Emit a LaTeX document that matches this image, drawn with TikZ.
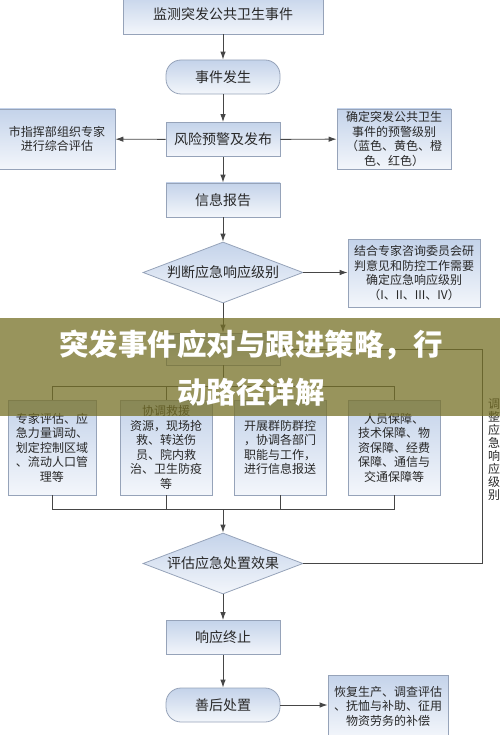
\documentclass[tikz,border=0pt]{standalone}
\usepackage{fontspec}
\setmainfont{Noto Sans CJK SC}
\usepackage{tikz}
\usetikzlibrary{shapes.geometric, arrows.meta}
\definecolor{boxline}{RGB}{150,163,185}
\definecolor{boxtop}{RGB}{196,211,234}
\definecolor{boxbot}{RGB}{243,246,251}
\definecolor{linegray}{RGB}{70,70,70}
\definecolor{txt}{RGB}{40,40,40}
\definecolor{band}{RGB}{118,112,38}

\begin{document}
\begin{tikzpicture}[x=1pt,y=-1pt,>={Latex[length=8pt,width=5.5pt]},
	box/.style={draw=boxline, line width=0.8pt, top color=boxtop, bottom color=boxbot, text=txt, align=center, inner sep=2pt},
	big/.style={box, minimum width=114pt, minimum height=34pt, font=\fontsize{14}{16}\selectfont},
	pill/.style={big, rounded corners=15pt},
	note/.style={box, font=\fontsize{12}{14.5}\selectfont},
	judge/.style={box, diamond, minimum width=160pt, minimum height=61pt, inner sep=0pt, aspect=2.6, font=\fontsize{14}{16}\selectfont},
	wire/.style={draw=linegray, line width=0.9pt}]
			\useasboundingbox (0,0) rectangle (500,735);
			
			\node[big, minimum width=200pt, minimum height=40pt] (watch) at (223,14) {监测突发公共卫生事件};
			\node[pill] (occur) at (223,77) {事件发生};
			\node[big] (alert) at (223,139.5) {风险预警及发布};
			\node[note, minimum width=116pt, minimum height=60pt] (expert) at (57,139) {市指挥部组织专家\\进行综合评估};
			\node[note, minimum width=114pt, minimum height=60pt] (grade) at (394,139) {确定突发公共卫生\\事件的预警级别\\（蓝色、黄色、橙\\色、红色）};
			\node[big] (report) at (223,200) {信息报告};
			\node[judge] (judge) at (223,272.5) {判断应急响应级别};
			\node[note, minimum width=132pt, minimum height=68pt] (consult) at (414,273) {结合专家咨询委员会研\\判意见和防控工作需要\\确定应急响应级别\\（I、II、III、IV）};
			\node[big, minimum height=32pt] (launch) at (223,349) {};
			
			\node[note, minimum width=88pt, minimum height=95pt] (task1) at (52,447.5) {专家评估、应\\急力量调动、\\划定控制区域\\、流动人口管\\理等};
			\node[note, minimum width=92pt, minimum height=95pt] (task2) at (166,447.5) {协调救援\\资源，现场抢\\救、转送伤\\员、院内救\\治、卫生防疫\\等};
			\node[note, minimum width=92pt, minimum height=95pt] (task3) at (280,447.5) {开展群防群控\\，协调各部门\\职能与工作，\\进行信息报送};
			\node[note, minimum width=92pt, minimum height=95pt] (task4) at (394,447.5) {人员保障、\\技术保障、物\\资保障、经费\\保障、通信与\\交通保障等};
			
			\node[judge] (assess) at (223,563.5) {评估应急处置效果};
			\node[big] (stop) at (223,637.5) {响应终止};
			\node[pill] (after) at (223,705) {善后处置};
			\node[note, minimum width=120pt, minimum height=62pt] (restore) at (388,706) {恢复生产、调查评估\\、抚恤与补助、征用\\物资劳务的补偿};
			\node[text=txt, font=\fontsize{12}{13}\selectfont, align=center] (adjust) at (494,450) {调\\整\\应\\急\\响\\应\\级\\别};
			
			\coordinate (split) at (223,386);
			\coordinate (merge) at (223,509);
			\coordinate (bend) at (482,349);
			
			\draw[wire,->] (watch) -- (occur);
			\draw[wire,->] (occur) -- (alert);
			\draw[wire,->] (alert) -- (expert);
			\draw[wire,->] (alert) -- (grade);
			\draw[wire,->] (alert) -- (report);
			\draw[wire,->] (report) -- (judge);
			\draw[wire,->] (judge.east) -- (judge.east -| consult.west);
			\draw[wire,->] (judge) -- (launch);
			\draw[wire] (launch) -- (split);
			\foreach \t in {task1,task2,task3,task4} {
				\draw[wire] (split) -| (\t.north);
				\draw[wire] (\t.south) |- (merge);
			}
			\draw[wire,->] (merge) -- (assess);
			\draw[wire,->] (assess.east) -| (bend) -- (launch.east);
			\draw[wire,->] (assess) -- (stop);
			\draw[wire,->] (stop) -- (after);
			\draw[wire,->] (after) -- (after -| restore.west);
			
			\fill[band, opacity=0.75] (0,318) rectangle (500,416);
			\node[text=white, font=\fontsize{29.5}{48}\selectfont\bfseries, align=center] (title) at (251,368) {突发事件应对与跟进策略，行\\动路径详解};
		\end{tikzpicture}
\end{document}
